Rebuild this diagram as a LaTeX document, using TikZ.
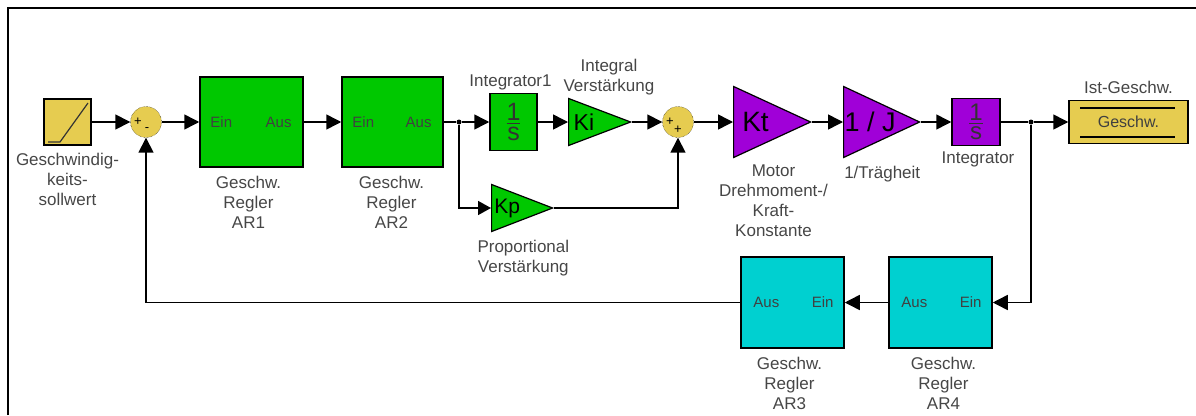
\documentclass[tikz,border=0pt]{standalone}
\usepackage{fontspec}
\setmainfont{Liberation Sans}
\usetikzlibrary{arrows.meta, shapes.geometric, positioning}
\definecolor{reglergreen}{RGB}{0,200,0}
\definecolor{motorpurple}{RGB}{160,0,216}
\definecolor{rueckteal}{RGB}{0,208,208}
\definecolor{quellgold}{RGB}{230,204,80}
\definecolor{labelgrey}{RGB}{70,70,70}
\newcommand{\fsize}[1]{\fontsize{#1}{20}\selectfont}
\newcommand{\einsdurchs}{\vbox{\offinterlineskip\halign{\hfil##\hfil\cr 1\cr\noalign{\kern2pt\hrule height 1.2pt\kern3pt}s\cr}}}
\tikzset{
	wire/.style={line width=1.5pt, black, -{Triangle[length=15pt,width=15pt]}},
	plainwire/.style={line width=1.5pt, black},
	block/.style={draw=black, line width=1.5pt, inner sep=0pt, text=black!80},
	sumnode/.style={circle, draw=black, densely dotted, fill=quellgold, minimum size=31pt, inner sep=0pt},
	gain/.style={isosceles triangle, isosceles triangle stretches, draw=black, line width=1.2pt, inner sep=0pt, anchor=lower side},
	caption/.style={align=center, text=labelgrey, font=\fsize{17}, inner sep=0pt},
	port/.style={text=black!75, font=\fsize{15}, inner sep=0pt},
	sign/.style={font=\fsize{13}, inner sep=0pt},
	dot/.style={circle, fill=black, minimum size=5pt, inner sep=0pt}
}
\begin{document}
\begin{tikzpicture}[x=1pt, y=-1pt]
	\useasboundingbox (0,0) rectangle (1196,415);
	\draw[line width=1.5pt] (8,415) -- (8,8) -- (1196,8);

	% source and first sum
	\node[block, fill=quellgold, minimum width=47pt, minimum height=46pt] (soll) at (67.5,122) {};
	\draw[line width=1.2pt, black!80] (48,142) -- (60,142) -- (88,103);
	\node[caption, below=7pt of soll] (sollcap) {Geschwindig-\\keits-\\sollwert};
	\node[sumnode] (sum1) at (146,122) {};
	\node[sign] (sum1a) at (138,122) {+};
	\node[sign] (sum1b) at (147,130) {-};

	% controller and return blocks
	\foreach \nam/\x/\w/\dx/\txt in {ar1/251.5/103/-3/AR1, ar2/392.5/101/-1/AR2}{
		\node[block, fill=reglergreen, minimum width=\w pt, minimum height=90pt] (\nam) at (\x,122) {};
		\node[port, anchor=west] (\nam ein) at ([xshift=11pt]\nam.west) {Ein};
		\node[port, anchor=east] (\nam aus) at ([xshift=-12pt]\nam.east) {Aus};
		\node[caption, below=8pt of \nam, xshift=\dx pt] (\nam cap) {Geschw.\\Regler\\\txt};
	}
	\foreach \nam/\x/\dx/\txt in {ar3/792.5/-3/AR3, ar4/940.5/3/AR4}{
		\node[block, fill=rueckteal, minimum width=103pt, minimum height=91pt] (\nam) at (\x,302.5) {};
		\node[port, anchor=west] (\nam aus) at ([xshift=13pt]\nam.west) {Aus};
		\node[port, anchor=east] (\nam ein) at ([xshift=-11pt]\nam.east) {Ein};
		\node[caption, below=8pt of \nam, xshift=\dx pt] (\nam cap) {Geschw.\\Regler\\\txt};
	}

	% integrators
	\node[block, fill=reglergreen, minimum width=47pt, minimum height=57pt, font=\fsize{25}] (int1) at (513.5,122) {\einsdurchs};
	\node[caption, above=3pt of int1, xshift=-3pt] (int1cap) {Integrator1};
	\node[block, fill=motorpurple, minimum width=48pt, minimum height=47pt, font=\fsize{24}] (int2) at (976,122) {\einsdurchs};
	\node[caption, below=5pt of int2, xshift=2pt] (int2cap) {Integrator};

	% gains
	\node[gain, fill=reglergreen, minimum width=47pt, minimum height=62pt, font=\fsize{23}] (ki) at (568,122) {Ki};
	\node[caption, above=8pt of ki, xshift=25pt] (kicap) {Integral\\Verstärkung};
	\node[gain, fill=reglergreen, minimum width=47pt, minimum height=61pt, font=\fsize{21}] (kp) at (491,208) {Kp};
	\node[caption, below=14pt of kp, xshift=16pt] (kpcap) {Proportional\\Verstärkung};
	\node[gain, fill=motorpurple, minimum width=71pt, minimum height=77pt, font=\fsize{28}] (kt) at (733,122) {Kt};
	\node[caption, below=17pt of kt, xshift=18pt] (ktcap) {Motor\\Drehmoment-/\\Kraft-\\Konstante};
	\node[gain, fill=motorpurple, minimum width=71pt, minimum height=76pt, font=\fsize{27}] (traeg) at (843,122) {1 / J};
	\node[caption, below=20pt of traeg, xshift=12pt] (traegcap) {1/Trägheit};

	\node[sumnode] (sum2) at (678,122) {};
	\node[sign] (sum2a) at (670,122) {+};
	\node[sign] (sum2b) at (678,130) {+};

	% output
	\node[block, fill=quellgold, minimum width=119pt, minimum height=43pt] (ist) at (1128.5,122) {};
	\node[inner sep=0pt, text=black!75, font=\fsize{16}] (istin) at (ist.center) {Geschw.};
	\node[caption, above=6pt of ist] (istcap) {Ist-Geschw.};
	\coordinate (ista) at (1080,108);
	\coordinate (istb) at (1175,108);
	\coordinate (istc) at (1080,137);
	\coordinate (istd) at (1175,137);
	\draw[line width=1.5pt] (ista) -- (istb) (istc) -- (istd);

	% junctions
	\node[dot] (ast1) at (459,122) {};
	\node[dot] (ast2) at (1031,122) {};

	% connectors
	\draw[wire] (soll) -- (sum1);
	\draw[wire] (sum1) -- (ar1);
	\draw[wire] (ar1) -- (ar2);
	\draw[plainwire] (ar2) -- (ast1);
	\draw[wire] (ast1) -- (int1);
	\draw[wire] (int1) -- (ki.lower side);
	\draw[wire] (ki.apex) -- (sum2);
	\draw[wire] (sum2) -- (kt.lower side);
	\draw[wire] (kt.apex) -- (traeg.lower side);
	\draw[wire] (traeg.apex) -- (int2);
	\draw[plainwire] (int2) -- (ast2);
	\draw[wire] (ast2) -- (ist);
	\draw[wire, -{Triangle[length=13pt,width=14pt]}] (ast1) |- (kp.lower side);
	\draw[wire] (kp.apex) -| (sum2);
	\draw[wire] (ast2) |- (ar4);
	\draw[wire] (ar4) -- (ar3);
	\draw[wire] (ar3) -| (sum1);
\end{tikzpicture}
\end{document}
